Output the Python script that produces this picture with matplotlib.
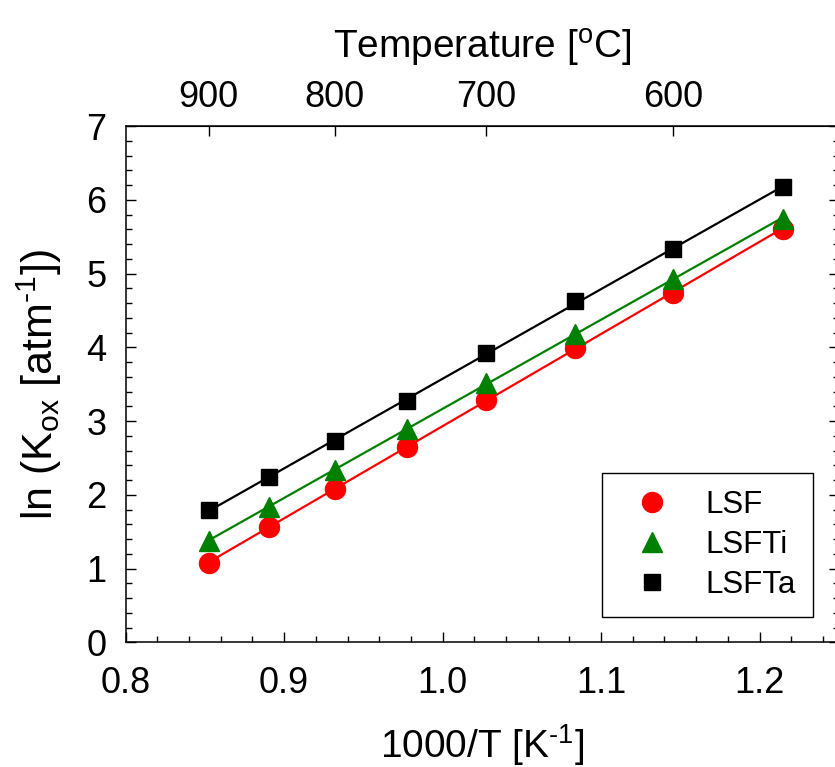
import numpy as np
import matplotlib
matplotlib.use("Agg")
import matplotlib.pyplot as plt

plt.rcParams['font.family'] = ['Liberation Sans', 'DejaVu Sans']
plt.rcParams['mathtext.fontset'] = 'custom'
plt.rcParams['mathtext.rm'] = 'Liberation Sans'
plt.rcParams['mathtext.it'] = 'Liberation Sans'

# measurement temperatures [°C] -> 1000/T [1/K]
temp_c = [900, 850, 800, 750, 700, 650, 600, 550]
inv_t = [1000.0 / (t + 273.15) for t in temp_c]

lsf = [1.07, 1.56, 2.08, 2.65, 3.29, 3.99, 4.74, 5.60]
lsfti = [1.37, 1.84, 2.34, 2.89, 3.52, 4.18, 4.93, 5.74]
lsfta = [1.79, 2.24, 2.73, 3.27, 3.92, 4.63, 5.33, 6.17]

top_ticks = [900, 800, 700, 600]

fig = plt.figure(figsize=(8.35, 7.67), dpi=100)
ax = fig.add_axes([0.1505, 0.1626, 0.854, 0.6731])

series = [
    (lsf, 'red', 'o', 14.4, 'LSF'),
    (lsfti, 'green', '^', 14, 'LSFTi'),
    (lsfta, 'black', 's', 12.2, 'LSFTa'),
]
x = np.array(inv_t)
for vals, col, mk, ms, name in series:
    k, b = np.polyfit(x, vals, 1)
    xf = np.array([x.min(), x.max()])
    ax.plot(xf, k * xf + b, color=col, lw=1.6, zorder=2)
    ax.plot(x, vals, ls='none', marker=mk, ms=ms, color=col, mec=col,
            label=name, zorder=3)

ax.set_xlim(0.8, 1.25)
ax.set_ylim(0, 7)
ax.set_xticks([0.8, 0.9, 1.0, 1.1, 1.2])
ax.set_xticklabels(['0.8', '0.9', '1.0', '1.1', '1.2'])
ax.set_xticks(np.arange(0.8, 1.25, 0.02), minor=True)
ax.set_yticks(range(8))
ax.set_yticks(np.arange(0, 7.01, 0.2), minor=True)

for s in ax.spines.values():
    s.set_linewidth(1.1)
ax.tick_params(which='both', direction='in', top=False, right=True,
               width=1.0, labelsize=26)
ax.tick_params(axis='x', which='major', length=7, pad=17)
ax.tick_params(axis='y', which='major', length=7, pad=14)
ax.tick_params(which='minor', length=4)

ax.set_xlabel('1000/T [K$^{\\text{-}1}$]', fontsize=28, labelpad=15)
ax.set_ylabel('ln (K$_{\\mathrm{ox}}$ [atm$^{\\text{-}1}$])', fontsize=31,
              labelpad=16)

sec = ax.secondary_xaxis('top', functions=(lambda v: 1000.0 / v - 273.15,
                                           lambda t: 1000.0 / (t + 273.15)))
sec.set_xticks(top_ticks)
sec.set_xticklabels([str(t) for t in top_ticks])
sec.tick_params(direction='in', length=7, width=1.0, labelsize=26, pad=8)
sec.tick_params(which='minor', length=0)
sec.set_xlabel('Temperature [$^{\\mathrm{o}}$C]', fontsize=28, labelpad=15)

leg = ax.legend(loc='lower right', bbox_to_anchor=(0.964, 0.049),
                fontsize=22.5, frameon=True, fancybox=False, framealpha=1,
                edgecolor='black', handlelength=2.1, handletextpad=0.65,
                borderpad=0.55, labelspacing=0.31, markerscale=1.0,
                borderaxespad=0)
leg.get_frame().set_linewidth(1.0)

fig.savefig('out.png', dpi=100)
